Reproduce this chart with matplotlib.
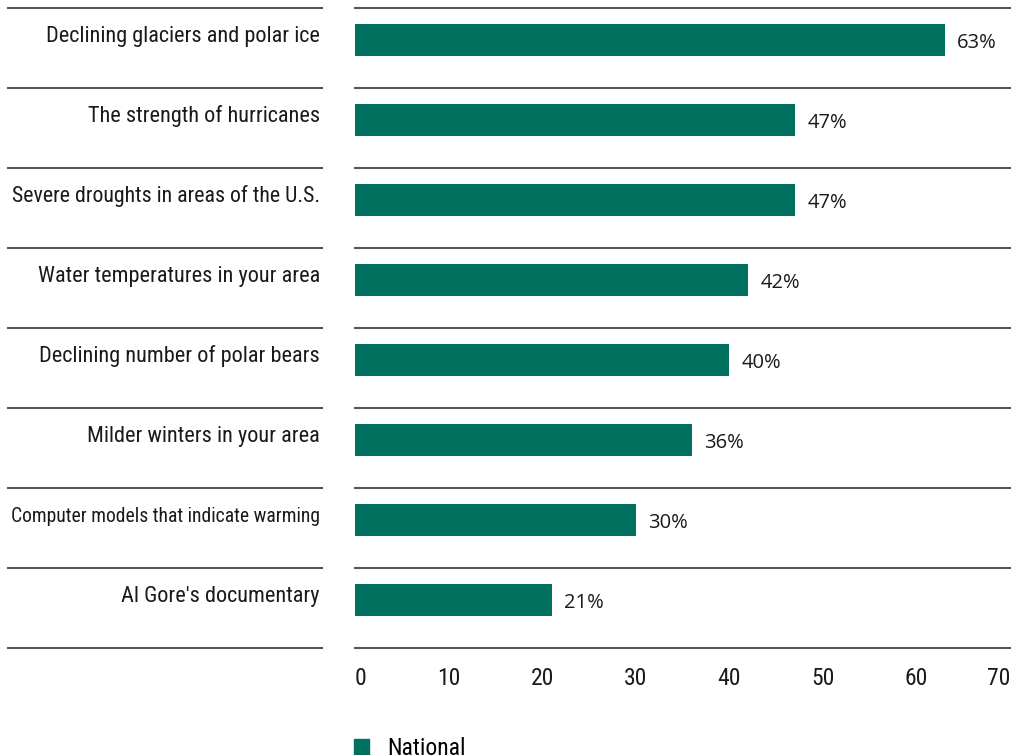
import matplotlib.pyplot as plt
import matplotlib.transforms as mtransforms
from matplotlib.patches import Patch

# Data
categories = [
    "Declining glaciers and polar ice",
    "The strength of hurricanes",
    "Severe droughts in areas of the U.S.",
    "Water temperatures in your area",
    "Declining number of polar bears",
    "Milder winters in your area",
    "Computer models that indicate warming",
    "Al Gore's documentary",
]
national = [63, 47, 47, 42, 40, 36, 30, 21]
x_ticks = [0, 10, 20, 30, 40, 50, 60, 70]
series_name = "National"

bar_color = "#00715e"
line_color = "#555555"
cond_font = ["Roboto Condensed", "DejaVu Sans"]

W, H = 1012, 755
fig = plt.figure(figsize=(W / 100, H / 100), dpi=100)
ax = fig.add_axes([355 / W, 107 / H, 655 / W, 640 / H])
renderer = fig.canvas.get_renderer()

n = len(categories)
rows = list(range(n))

# Bars, nudged a little above the row middle
ax.barh([r - 0.1 for r in rows], national, height=0.4, color=bar_color, zorder=3)

ax.set_xlim(0, 70)
ax.set_ylim(n - 0.5, -0.5)

# Row separator lines, on the plot and under the labels
left_tr = mtransforms.blended_transform_factory(fig.transFigure, ax.transData)
for b in range(n + 1):
    y = b - 0.5
    ax.axhline(y, color=line_color, lw=1.5, clip_on=False, zorder=2)
    ax.plot([8 / W, 322 / W], [y, y], color=line_color, lw=1.5,
            transform=left_tr, clip_on=False)

# Category labels on the left (shrink the long one so it fits the column)
for r, name in zip(rows, categories):
    t = ax.text(320 / W, r - 0.08, name, transform=left_tr, ha="right",
                va="baseline", fontsize=16, family=cond_font, color="#1a1a1a")
    w = t.get_window_extent(renderer).width
    if w > 310:
        t.set_fontsize(16 * 310 / w)

# Value labels
for r, v in zip(rows, national):
    ax.annotate(f"{v}%", xy=(v, r), xytext=(9, 0), textcoords="offset points",
                ha="left", va="baseline", fontsize=14.5, family="Open Sans",
                color="#1a1a1a")

# Axis ticks
ax.set_xticks(x_ticks)
ax.set_xticklabels([str(t) for t in x_ticks], fontsize=17, family=cond_font,
                   color="#1a1a1a")
labels = ax.get_xticklabels()
labels[0].set_horizontalalignment("left")
labels[-1].set_horizontalalignment("right")
ax.tick_params(axis="x", length=0, pad=14)
ax.set_yticks([])
for s in ax.spines.values():
    s.set_visible(False)

# Legend
ax.legend(handles=[Patch(color=bar_color, label=series_name)],
          loc="upper left", bbox_to_anchor=(354 / W, 18 / H),
          bbox_transform=fig.transFigure, frameon=False,
          handlelength=0.65, handleheight=0.65, handletextpad=0.75,
          prop={"family": cond_font, "size": 17}, borderaxespad=0,
          borderpad=0)

fig.savefig("out.png", dpi=100)
